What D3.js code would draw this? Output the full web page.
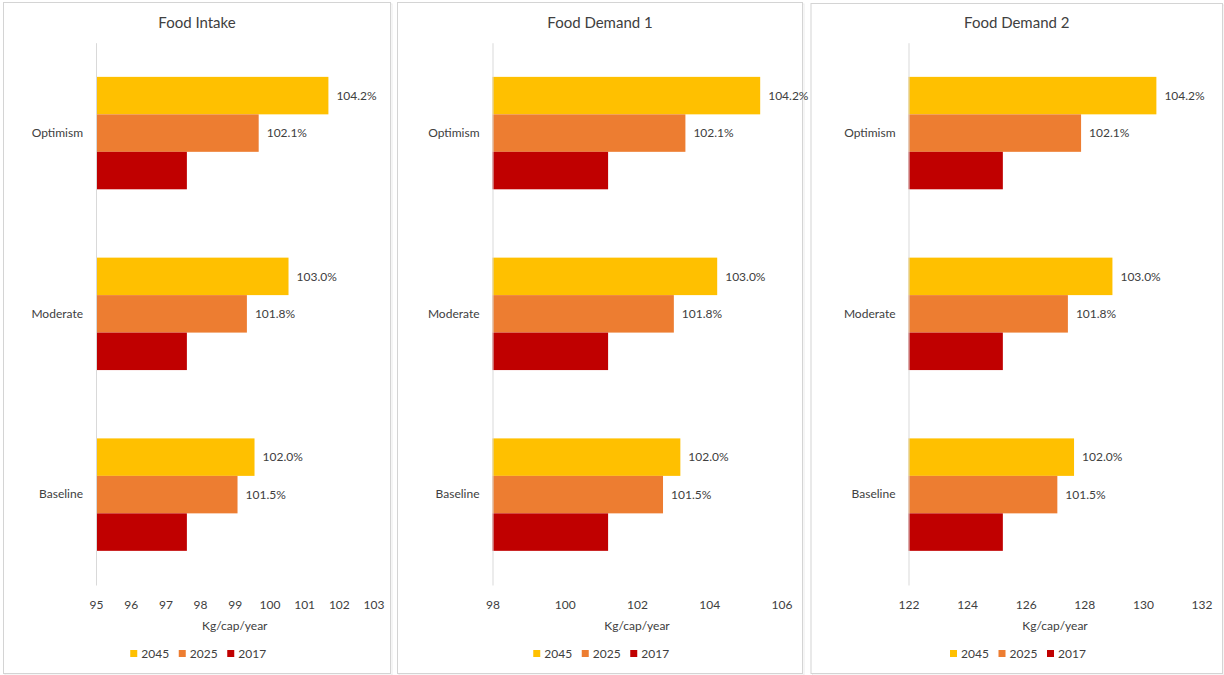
<!DOCTYPE html>
<html>
<head>
<meta charset="utf-8">
<script src="https://cdn.jsdelivr.net/npm/d3@7"></script>
<style>
  html, body { margin: 0; padding: 0; background: #ffffff; }
  svg { display: block; }
  text { font-family: Lato, "Open Sans", "Noto Sans", sans-serif; fill: #404040; }
</style>
</head>
<body>
<svg id="chart" width="1224" height="675"></svg>
<script>
// Scenario categories (top to bottom) and the three year series
const categories = ["Optimism", "Moderate", "Baseline"];
const years = ["2045", "2025", "2017"];
const yearColors = ["#FFC000", "#ED7D31", "#C00000"];

// Food Intake (kg/cap/year)
const intake2045 = [101.7, 100.55, 99.57];
const intake2025 = [99.69, 99.35, 99.08];
const intake2017 = [97.62, 97.62, 97.62];

// Food Demand 1 (kg/cap/year)
const demand1_2045 = [105.41, 104.22, 103.2];
const demand1_2025 = [103.34, 103.02, 102.72];
const demand1_2017 = [101.2, 101.2, 101.2];

// Food Demand 2 (kg/cap/year)
const demand2_2045 = [130.46, 128.96, 127.65];
const demand2_2025 = [127.89, 127.44, 127.08];
const demand2_2017 = [125.22, 125.22, 125.22];

// Growth labels relative to 2017 (same in every panel)
const labels2045 = ["104.2%", "103.0%", "102.0%"];
const labels2025 = ["102.1%", "101.8%", "101.5%"];

// Axis ticks per panel
const intakeTicks = [95, 96, 97, 98, 99, 100, 101, 102, 103];
const demand1Ticks = [98, 100, 102, 104, 106];
const demand2Ticks = [122, 124, 126, 128, 130, 132];

const titles = ["Food Intake", "Food Demand 1", "Food Demand 2"];
const axisTitle = "Kg/cap/year";

// Panel layout: frame box and plot range in pixels
const layouts = [
  { box: [3.5, 2.5, 387, 671], range: [96, 373.5], domain: [95, 103] },
  { box: [397.5, 2.5, 405, 671], range: [492.5, 781.5], domain: [98, 106] },
  { box: [811, 3.5, 411.5, 670], range: [908.5, 1201.5], domain: [122, 132] }
];

const panelSeries = [
  [intake2045, intake2025, intake2017],
  [demand1_2045, demand1_2025, demand1_2017],
  [demand2_2045, demand2_2025, demand2_2017]
];
const panelTicks = [intakeTicks, demand1Ticks, demand2Ticks];
const seriesLabels = [labels2045, labels2025, null];

const plotTop = 42.7, plotBottom = 585;

const svg = d3.select("#chart");

layouts.forEach((lay, pi) => {
  const g = svg.append("g");
  const [bx, by, bw, bh] = lay.box;

  // frame with a faint shadow
  g.append("rect")
    .attr("x", bx + 1.5).attr("y", by + 1.5).attr("width", bw).attr("height", bh)
    .attr("fill", "none").attr("stroke", "#ececec").attr("stroke-width", 1);
  g.append("rect")
    .attr("x", bx).attr("y", by).attr("width", bw).attr("height", bh)
    .attr("fill", "#ffffff").attr("stroke", "#d4d4d4").attr("stroke-width", 1);

  const x = d3.scaleLinear().domain(lay.domain).range(lay.range);
  const y = d3.scaleBand().domain(categories).range([plotTop, plotBottom])
    .paddingInner(0.378).paddingOuter(0.189);
  const ySub = d3.scaleBand().domain(years).range([0, y.bandwidth()]).padding(0);

  // title
  g.append("text")
    .attr("x", bx + bw / 2).attr("y", 28)
    .attr("text-anchor", "middle")
    .style("font-size", "15px")
    .text(titles[pi]);

  // bars
  years.forEach((yr, si) => {
    const vals = panelSeries[pi][si];
    g.selectAll(null)
      .data(categories)
      .enter().append("rect")
      .attr("x", x(lay.domain[0]))
      .attr("y", (c) => y(c) + ySub(yr))
      .attr("width", (c, i) => x(vals[i]) - x(lay.domain[0]))
      .attr("height", ySub.bandwidth())
      .attr("fill", yearColors[si]);

    const labs = seriesLabels[si];
    if (labs) {
      g.selectAll(null)
        .data(categories)
        .enter().append("text")
        .attr("x", (c, i) => x(vals[i]) + 8)
        .attr("y", (c) => y(c) + ySub(yr) + ySub.bandwidth() / 2)
        .attr("dy", "0.35em")
        .style("font-size", "12px")
        .text((c, i) => labs[i]);
    }
  });

  // vertical category axis
  const yAxis = d3.axisLeft(y).tickSize(0).tickPadding(13);
  const ya = g.append("g")
    .attr("transform", `translate(${x(lay.domain[0])},0)`)
    .call(yAxis);
  ya.select(".domain").attr("stroke", "#d9d9d9").attr("stroke-width", 1);
  ya.selectAll("text")
    .style("font-size", "12px")
    .style("font-family", "Lato, 'Open Sans', sans-serif")
    .attr("fill", "#404040");

  // horizontal value axis (labels only)
  const xAxis = d3.axisBottom(x).tickValues(panelTicks[pi]).tickSize(0).tickPadding(0)
    .tickFormat(d3.format("d"));
  const xa = g.append("g")
    .attr("transform", `translate(0,${plotBottom + 15})`)
    .call(xAxis);
  xa.select(".domain").remove();
  xa.selectAll("text")
    .style("font-size", "12px")
    .style("font-family", "Lato, 'Open Sans', sans-serif")
    .attr("fill", "#404040");

  // axis title
  g.append("text")
    .attr("x", (lay.range[0] + lay.range[1]) / 2).attr("y", 630)
    .attr("text-anchor", "middle")
    .style("font-size", "12px")
    .text(axisTitle);

  // legend
  const itemW = 48.5;
  const legendX0 = bx + bw / 2 - (itemW * years.length - 12) / 2;
  const leg = g.append("g").attr("transform", `translate(${legendX0},654)`);
  years.forEach((yr, si) => {
    const it = leg.append("g").attr("transform", `translate(${si * itemW},0)`);
    it.append("rect").attr("x", 0).attr("y", -4).attr("width", 7).attr("height", 7)
      .attr("fill", yearColors[si]);
    it.append("text").attr("x", 11).attr("y", 0).attr("dy", "0.35em")
      .style("font-size", "12px").text(yr);
  });
});
</script>
</body>
</html>
